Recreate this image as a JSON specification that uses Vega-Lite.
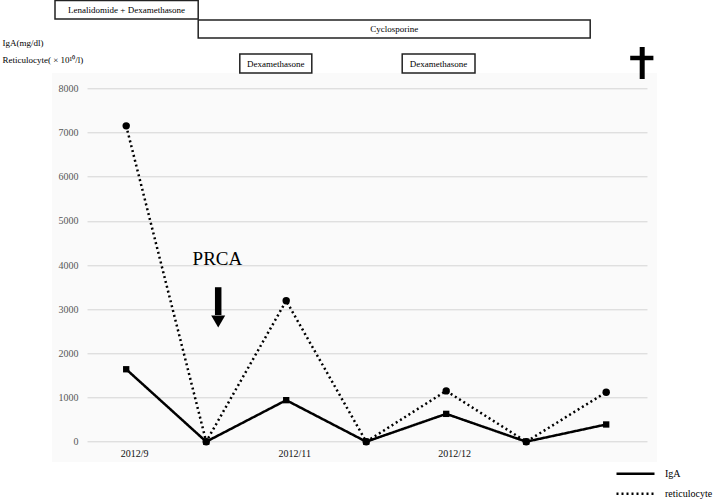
{
  "$schema": "https://vega.github.io/schema/vega-lite/v6.json",
  "width": 560,
  "height": 353.4,
  "autosize": {"type": "none"},
  "padding": {"left": 87, "top": 88.3, "right": 67, "bottom": 60.3},
  "config": {
    "font": "Liberation Serif",
    "view": {"stroke": null},
    "axisX": {"domain": false, "ticks": false, "grid": false, "labelFontSize": 10, "labelColor": "#111", "labelPadding": 7, "labelOffset": 8},
    "axisY": {"domain": false, "ticks": false, "grid": true, "gridColor": "#d9d9d9", "gridWidth": 1, "labelColor": "#595959", "labelFontSize": 10, "labelPadding": 9}
  },
  "datasets": {
    "lab": [
      {"t": 0, "series": "IgA", "value": 1640},
      {"t": 1, "series": "IgA", "value": 0},
      {"t": 2, "series": "IgA", "value": 940},
      {"t": 3, "series": "IgA", "value": 0},
      {"t": 4, "series": "IgA", "value": 630},
      {"t": 5, "series": "IgA", "value": 0},
      {"t": 6, "series": "IgA", "value": 390},
      {"t": 0, "series": "reticulocyte", "value": 7150},
      {"t": 1, "series": "reticulocyte", "value": 0},
      {"t": 2, "series": "reticulocyte", "value": 3190},
      {"t": 3, "series": "reticulocyte", "value": 0},
      {"t": 4, "series": "reticulocyte", "value": 1150},
      {"t": 5, "series": "reticulocyte", "value": 0},
      {"t": 6, "series": "reticulocyte", "value": 1120}
    ],
    "therapy": [
      {"drug": "Lenalidomide + Dexamethasone", "start": -0.89, "end": 0.9, "lane": "top"},
      {"drug": "Cyclosporine", "start": 0.9, "end": 5.8, "lane": "mid"},
      {"drug": "Dexamethasone", "start": 1.42, "end": 2.32, "lane": "low"},
      {"drug": "Dexamethasone", "start": 3.45, "end": 4.36, "lane": "low"}
    ]
  },
  "layer": [
    {
      "data": {"values": [{}]},
      "mark": {"type": "rect", "fill": "#000", "fillOpacity": 0.02},
      "encoding": {
        "x": {"datum": -0.9275, "type": "quantitative", "scale": {"domain": [-0.49, 6.51], "nice": false, "zero": false}},
        "x2": {"datum": 6.635},
        "y": {"datum": 8346, "type": "quantitative", "scale": {"domain": [0, 8000], "nice": false, "zero": false}},
        "y2": {"datum": -460}
      }
    },
    {
      "data": {"name": "lab"},
      "mark": {"type": "line", "color": "black", "strokeWidth": 2.5, "strokeCap": "butt"},
      "encoding": {
        "x": {
          "field": "t", "type": "quantitative",
          "scale": {"domain": [-0.49, 6.51], "nice": false, "zero": false},
          "axis": {
            "title": null, "values": [0, 2, 4],
            "labelExpr": "datum.value == 0 ? '2012/9' : datum.value == 2 ? '2012/11' : '2012/12'"
          }
        },
        "y": {
          "field": "value", "type": "quantitative",
          "scale": {"domain": [0, 8000], "nice": false, "zero": false},
          "axis": {
            "title": ["IgA(mg/dl)", "Reticulocyte( × 10¹⁰/l)"],
            "values": [0, 1000, 2000, 3000, 4000, 5000, 6000, 7000, 8000],
            "format": "d",
            "titleAngle": 0, "titleAlign": "left", "titleBaseline": "top",
            "titleX": -85, "titleY": -50, "titleFontSize": 9, "titleFontWeight": "normal",
            "titleLineHeight": 17, "titleColor": "black"
          }
        },
        "strokeDash": {
          "field": "series", "type": "nominal",
          "scale": {"domain": ["IgA", "reticulocyte"], "range": [[1, 0], [2, 3]]},
          "legend": {
            "title": null, "orient": "none", "legendX": 542, "legendY": 379,
            "symbolType": "M-3.8,0H3.8", "symbolSize": 100, "symbolStrokeWidth": 2.5,
            "symbolStrokeColor": "black", "symbolFillColor": "transparent", "labelFont": "Liberation Serif",
            "labelFontSize": 10, "labelColor": "black", "labelOffset": 23,
            "rowPadding": 8, "padding": 0
          }
        }
      }
    },
    {
      "data": {"name": "lab"},
      "transform": [{"filter": "datum.series == 'reticulocyte'"}],
      "mark": {"type": "point", "shape": "circle", "filled": true, "color": "black", "size": 55, "opacity": 1},
      "encoding": {
        "x": {"field": "t", "type": "quantitative", "scale": {"domain": [-0.49, 6.51], "nice": false, "zero": false}},
        "y": {"field": "value", "type": "quantitative", "scale": {"domain": [0, 8000], "nice": false, "zero": false}}
      }
    },
    {
      "data": {"name": "lab"},
      "transform": [{"filter": "datum.series == 'IgA'"}],
      "mark": {"type": "point", "shape": "square", "filled": true, "color": "black", "size": 40, "opacity": 1},
      "encoding": {
        "x": {"field": "t", "type": "quantitative", "scale": {"domain": [-0.49, 6.51], "nice": false, "zero": false}},
        "y": {"field": "value", "type": "quantitative", "scale": {"domain": [0, 8000], "nice": false, "zero": false}}
      }
    },
    {
      "data": {"name": "therapy"},
      "transform": [{"filter": "datum.lane == 'top'"}, {"calculate": "(datum.start + datum.end) / 2", "as": "mid"}],
      "layer": [
        {
          "mark": {"type": "rect", "fill": "white", "stroke": "#222", "strokeWidth": 1.5},
          "encoding": {
            "x": {"field": "start", "type": "quantitative", "scale": {"domain": [-0.49, 6.51], "nice": false, "zero": false}},
            "x2": {"field": "end"},
            "y": {"datum": 9987, "type": "quantitative", "scale": {"domain": [0, 8000], "nice": false, "zero": false}},
            "y2": {"datum": 9569}
          }
        },
        {
          "mark": {"type": "text", "fontSize": 9, "color": "black", "align": "center", "baseline": "middle"},
          "encoding": {
            "x": {"field": "mid", "type": "quantitative", "scale": {"domain": [-0.49, 6.51], "nice": false, "zero": false}},
            "y": {"datum": 9773, "type": "quantitative", "scale": {"domain": [0, 8000], "nice": false, "zero": false}},
            "text": {"field": "drug"}
          }
        }
      ]
    },
    {
      "data": {"name": "therapy"},
      "transform": [{"filter": "datum.lane == 'mid'"}, {"calculate": "(datum.start + datum.end) / 2", "as": "mid"}],
      "layer": [
        {
          "mark": {"type": "rect", "fill": "white", "stroke": "#222", "strokeWidth": 1.5},
          "encoding": {
            "x": {"field": "start", "type": "quantitative", "scale": {"domain": [-0.49, 6.51], "nice": false, "zero": false}},
            "x2": {"field": "end"},
            "y": {"datum": 9546, "type": "quantitative", "scale": {"domain": [0, 8000], "nice": false, "zero": false}},
            "y2": {"datum": 9139}
          }
        },
        {
          "mark": {"type": "text", "fontSize": 9, "color": "black", "align": "center", "baseline": "middle"},
          "encoding": {
            "x": {"field": "mid", "type": "quantitative", "scale": {"domain": [-0.49, 6.51], "nice": false, "zero": false}},
            "y": {"datum": 9343, "type": "quantitative", "scale": {"domain": [0, 8000], "nice": false, "zero": false}},
            "text": {"field": "drug"}
          }
        }
      ]
    },
    {
      "data": {"name": "therapy"},
      "transform": [{"filter": "datum.lane == 'low'"}, {"calculate": "(datum.start + datum.end) / 2", "as": "mid"}],
      "layer": [
        {
          "mark": {"type": "rect", "fill": "white", "stroke": "#222", "strokeWidth": 1.5},
          "encoding": {
            "x": {"field": "start", "type": "quantitative", "scale": {"domain": [-0.49, 6.51], "nice": false, "zero": false}},
            "x2": {"field": "end"},
            "y": {"datum": 8776, "type": "quantitative", "scale": {"domain": [0, 8000], "nice": false, "zero": false}},
            "y2": {"datum": 8346}
          }
        },
        {
          "mark": {"type": "text", "fontSize": 9, "color": "black", "align": "center", "baseline": "middle"},
          "encoding": {
            "x": {"field": "mid", "type": "quantitative", "scale": {"domain": [-0.49, 6.51], "nice": false, "zero": false}},
            "y": {"datum": 8550, "type": "quantitative", "scale": {"domain": [0, 8000], "nice": false, "zero": false}},
            "text": {"field": "drug"}
          }
        }
      ]
    },
    {
      "data": {"values": [{"label": "PRCA"}]},
      "mark": {"type": "text", "fontSize": 19, "color": "black", "align": "center", "baseline": "middle"},
      "encoding": {
        "x": {"datum": 1.14, "type": "quantitative", "scale": {"domain": [-0.49, 6.51], "nice": false, "zero": false}},
        "y": {"datum": 4129, "type": "quantitative", "scale": {"domain": [0, 8000], "nice": false, "zero": false}},
        "text": {"field": "label"}
      }
    },
    {
      "data": {"values": [{}]},
      "mark": {"type": "rule", "color": "black", "strokeWidth": 6.5},
      "encoding": {
        "x": {"datum": 1.15, "type": "quantitative", "scale": {"domain": [-0.49, 6.51], "nice": false, "zero": false}},
        "y": {"datum": 3497, "type": "quantitative", "scale": {"domain": [0, 8000], "nice": false, "zero": false}},
        "y2": {"datum": 2868}
      }
    },
    {
      "data": {"values": [{}]},
      "mark": {"type": "point", "shape": "triangle-down", "filled": true, "color": "black", "size": 196, "opacity": 1},
      "encoding": {
        "x": {"datum": 1.15, "type": "quantitative", "scale": {"domain": [-0.49, 6.51], "nice": false, "zero": false}},
        "y": {"datum": 2721, "type": "quantitative", "scale": {"domain": [0, 8000], "nice": false, "zero": false}}
      }
    },
    {
      "data": {"values": [{}]},
      "mark": {"type": "rule", "color": "black", "strokeWidth": 5},
      "encoding": {
        "x": {"datum": 6.45, "type": "quantitative", "scale": {"domain": [-0.49, 6.51], "nice": false, "zero": false}},
        "y": {"datum": 8935, "type": "quantitative", "scale": {"domain": [0, 8000], "nice": false, "zero": false}},
        "y2": {"datum": 8210}
      }
    },
    {
      "data": {"values": [{}]},
      "mark": {"type": "rule", "color": "black", "strokeWidth": 4.5},
      "encoding": {
        "x": {"datum": 6.3, "type": "quantitative", "scale": {"domain": [-0.49, 6.51], "nice": false, "zero": false}},
        "x2": {"datum": 6.59},
        "y": {"datum": 8686, "type": "quantitative", "scale": {"domain": [0, 8000], "nice": false, "zero": false}}
      }
    }
  ]
}
